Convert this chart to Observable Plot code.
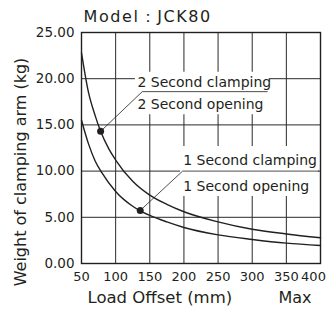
<!DOCTYPE html>
<html>
<head>
<meta charset="utf-8">
<script src="https://cdn.jsdelivr.net/npm/d3@7"></script>
<script src="https://cdn.jsdelivr.net/npm/@observablehq/plot@0.6"></script>
<style>
  html, body { margin: 0; padding: 0; background: #fff; }
</style>
</head>
<body>
<div id="chart"></div>
<script>
// ---- data ----
const title = "Model：JCK80";
const xLabel = "Load Offset (mm)";
const xLabelMax = "Max";
const yLabel = "Weight of clamping arm (kg)";

const xTicks = [50, 100, 150, 200, 250, 300, 350, 400];
const xTickLabels = ["50", "100", "150", "200", "250", "300", "350", "400"];
const yTicks = [0, 5, 10, 15, 20, 25];
const yTickLabels = ["0.00", "5.00", "10.00", "15.00", "20.00", "25.00"];

// upper curve (2 second)
const offsets2 = [50, 60, 70, 78, 90, 100, 125, 150, 175, 200, 250, 300, 350, 400];
const weights2 = [22.8, 18.6, 16.0, 14.3, 12.4, 11.2, 8.9, 7.4, 6.4, 5.6, 4.5, 3.7, 3.2, 2.78];
// lower curve (1 second)
const offsets1 = [50, 60, 70, 80, 100, 125, 136, 150, 175, 200, 250, 300, 350, 400];
const weights1 = [15.5, 13.0, 11.1, 9.8, 7.8, 6.2, 5.7, 5.2, 4.5, 3.9, 3.1, 2.6, 2.2, 1.95];

// callout labels
const labels2 = ["2 Second clamping", "2 Second opening"];
const labels1 = ["1 Second clamping", "1 Second opening"];
// callout anchors (data units): marked point, elbow, end of underline
const callout2 = {point: [78, 14.3], elbow: [139, 18.6], end: [322, 18.6], textX: 132, textY: [19.6, 17.2], box: [129, 325, 16.1, 20.7]};
const callout1 = {point: [136, 5.74], elbow: [198, 10.0], end: [397, 10.0], textX: 199, textY: [11.15, 8.33], box: [195, 397, 7.25, 12.66]};

// ---- build ----
const ink = "#231f20";
const curve2 = offsets2.map((x, i) => ({x, y: weights2[i]}));
const curve1 = offsets1.map((x, i) => ({x, y: weights1[i]}));
const leader = c => [c.point, c.elbow, c.end].map(([x, y]) => ({x, y}));
const textRows = (c, labels) => labels.map((t, i) => ({x: c.textX, y: c.textY[i], t}));
const boxes = [callout2, callout1].map(c => ({x1: c.box[0], x2: c.box[1], y1: c.box[2], y2: c.box[3]}));

const chart = Plot.plot({
  width: 331,
  height: 316,
  marginLeft: 81,
  marginRight: 11,
  marginTop: 32,
  marginBottom: 53,
  style: {fontFamily: "'DejaVu Sans', sans-serif", background: "white", color: ink},
  x: {type: "linear", domain: [50, 400], axis: null},
  y: {type: "linear", domain: [0, 25], axis: null},
  marks: [
    Plot.gridX(xTicks, {stroke: "#2a2a2a", strokeOpacity: 1, strokeWidth: 1}),
    Plot.gridY(yTicks, {stroke: "#2a2a2a", strokeOpacity: 1, strokeWidth: 1}),
    Plot.rect(boxes, {x1: "x1", x2: "x2", y1: "y1", y2: "y2", fill: "white"}),
    Plot.frame({stroke: ink, strokeWidth: 1.4}),
    Plot.line(curve2, {x: "x", y: "y", curve: "monotone-x", stroke: ink, strokeWidth: 1.4}),
    Plot.line(curve1, {x: "x", y: "y", curve: "monotone-x", stroke: ink, strokeWidth: 1.4}),
    Plot.line(leader(callout2), {x: "x", y: "y", stroke: ink, strokeWidth: 0.8}),
    Plot.line(leader(callout1), {x: "x", y: "y", stroke: ink, strokeWidth: 0.8}),
    Plot.dot([callout2.point, callout1.point], {x: d => d[0], y: d => d[1], r: 3.5, fill: ink, stroke: null}),
    Plot.text(textRows(callout2, labels2), {x: "x", y: "y", text: "t", textAnchor: "start", fontSize: 14, fill: ink}),
    Plot.text(textRows(callout1, labels1), {x: "x", y: "y", text: "t", textAnchor: "start", fontSize: 14, fill: ink}),
    // y tick labels
    Plot.text(yTicks, {y: d => d, text: (d, i) => yTickLabels[i], frameAnchor: "left", textAnchor: "end", lineAnchor: "middle", dx: -7, fontSize: 13.5, fill: ink}),
    // x tick labels
    Plot.text(xTicks.slice(0, -1), {x: d => d, text: (d, i) => xTickLabels[i], frameAnchor: "bottom", textAnchor: "middle", lineAnchor: "middle", dy: 13.5, fontSize: 13, fill: ink}),
    Plot.text(xTicks.slice(-1), {x: d => d, text: () => xTickLabels[xTickLabels.length - 1], frameAnchor: "bottom", textAnchor: "middle", lineAnchor: "middle", dy: 13.5, dx: -7, fontSize: 13, fill: ink}),
    // axis titles
    Plot.text([xLabel], {frameAnchor: "bottom-left", textAnchor: "start", lineAnchor: "middle", dx: 6, dy: 34, fontSize: 16.5, fill: ink}),
    Plot.text([xLabelMax], {frameAnchor: "bottom-left", textAnchor: "start", lineAnchor: "middle", dx: 197, dy: 34, fontSize: 16, fill: ink}),
    Plot.text([yLabel], {frameAnchor: "left", textAnchor: "middle", lineAnchor: "middle", rotate: -90, dx: -61, dy: 24, fontSize: 16, fill: ink}),
    // title
    Plot.text([title], {frameAnchor: "top-left", textAnchor: "start", lineAnchor: "middle", dx: 2, dy: -16, fontSize: 16, fill: ink})
  ]
});
d3.select(chart).selectAll("text").filter(function () { return this.textContent === title; })
  .attr("letter-spacing", "1.6px");
document.getElementById("chart").appendChild(chart);
</script>
</body>
</html>
